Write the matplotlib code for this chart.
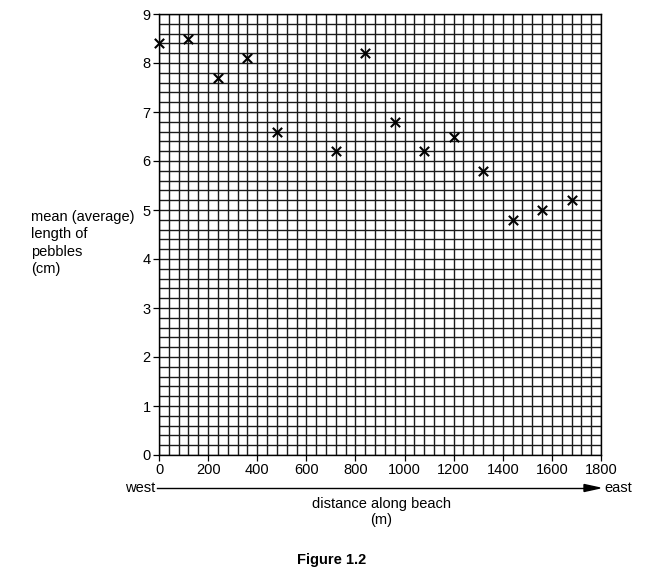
import matplotlib.pyplot as plt
import numpy as np

plt.rcParams['font.family'] = ['Liberation Sans', 'DejaVu Sans']

# distance along beach (m) and mean pebble length (cm)
distance = [0, 120, 240, 360, 480, 720, 840, 960, 1080, 1200, 1320, 1440, 1560, 1680]
length = [8.4, 8.5, 7.7, 8.1, 6.6, 6.2, 8.2, 6.8, 6.2, 6.5, 5.8, 4.8, 5.0, 5.2]

x_ticks = list(range(0, 1801, 200))
y_ticks = list(range(0, 10))

fig = plt.figure(figsize=(6.5, 5.72), dpi=100)
ax = fig.add_axes([159 / 650, 1 - 455 / 572, 442 / 650, 441 / 572])

ax.set_xlim(0, 1800)
ax.set_ylim(0, 9)
ax.set_xticks(x_ticks)
ax.set_yticks(y_ticks)
ax.set_xticks(np.arange(0, 1801, 40), minor=True)
ax.set_yticks(np.arange(0, 9.01, 0.2), minor=True)
ax.grid(which='both', color='#1a1a1a', linewidth=1.0)
ax.set_axisbelow(True)
ax.tick_params(which='minor', length=0)
ax.tick_params(which='major', length=4, width=0.9, labelsize=10.5, pad=2)
for s in ax.spines.values():
    s.set_linewidth(1.0)

ax.scatter(distance, length, marker='x', s=45, c='black', linewidths=1.5,
           zorder=3, clip_on=False)

# y label block to the left
fig.text(31 / 650, 1 - 243 / 572, 'mean (average)\nlength of\npebbles\n(cm)',
         ha='left', va='center', fontsize=10.5, linespacing=1.32)

# west -> east arrow
fig.text(155 / 650, 1 - 488 / 572, 'west', ha='right', va='center', fontsize=10.5)
fig.text(604 / 650, 1 - 488 / 572, 'east', ha='left', va='center', fontsize=10.5)
fig.add_artist(plt.Line2D([157 / 650, 585 / 650], [1 - 488 / 572] * 2,
                          color='black', linewidth=1.0))
fig.patches.append(plt.Polygon([[584 / 650, 1 - 484.5 / 572], [600 / 650, 1 - 488 / 572],
                                [584 / 650, 1 - 491.5 / 572]], closed=True,
                               color='black', transform=fig.transFigure, figure=fig))

fig.text(381 / 650, 1 - 512 / 572, 'distance along beach\n(m)', ha='center', va='center',
         fontsize=10.5, linespacing=1.25)
fig.text(332 / 650, 1 - 560 / 572, 'Figure 1.2', ha='center', va='center',
         fontsize=10.5, fontweight='bold')

fig.savefig('out.png', dpi=100)
